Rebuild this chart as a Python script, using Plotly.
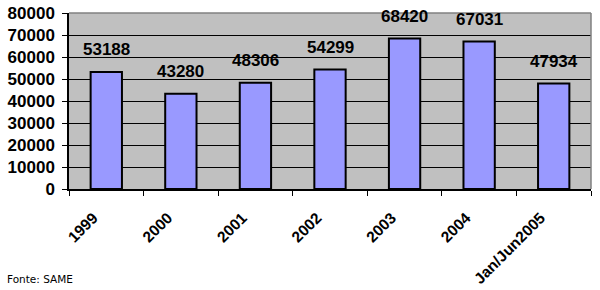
import plotly.graph_objects as go

categories = ["1999", "2000", "2001", "2002", "2003", "2004", "Jan/Jun2005"]
values = [53188, 43280, 48306, 54299, 68420, 67031, 47934]
y_ticks = [0, 10000, 20000, 30000, 40000, 50000, 60000, 70000, 80000]
source_note = "Fonte: SAME"

FAMILY = "Liberation Sans, Arial, sans-serif"
BOLD = dict(family=FAMILY, size=17, color="black", weight="bold")
XBOLD = dict(family=FAMILY, size=15.5, color="black", weight="bold")

fig = go.Figure()
fig.add_trace(go.Bar(
    x=categories, y=values,
    marker=dict(color="#9999FF", line=dict(color="black", width=2)),
    width=0.42,
    hoverinfo="skip",
))

for i, v in enumerate(values):
    fig.add_annotation(x=i, y=v, text=str(v), showarrow=False,
                       yshift=22, font=BOLD, xanchor="center", yanchor="middle")

fig.add_annotation(xref="paper", yref="paper", x=-0.123, y=-0.512,
                   text=source_note, showarrow=False, xanchor="left", yanchor="middle",
                   font=dict(family="DejaVu Sans, Verdana, sans-serif", size=10.5, color="black"))

fig.update_layout(
    width=600, height=290,
    margin=dict(l=69, r=9, t=13, b=101, autoexpand=False),
    paper_bgcolor="white",
    plot_bgcolor="#C0C0C0",
    showlegend=False,
    xaxis=dict(
        type="category",
        categoryorder="array", categoryarray=categories,
        range=[-0.5, len(categories) - 0.5],
        tickson="boundaries",
        ticks="outside", ticklen=5, tickcolor="black", tickwidth=1,
        showline=True, linecolor="black", linewidth=1.5,
        showgrid=False, zeroline=False,
        tickangle=-45,
        tickfont=XBOLD,
        ticklabelshift=-13,
        ticklabelstandoff=12,
        automargin=False,
    ),
    yaxis=dict(
        range=[0, 80000],
        tickvals=y_ticks,
        ticktext=[str(t) for t in y_ticks],
        ticks="outside", ticklen=5, tickcolor="black", tickwidth=1,
        showline=True, linecolor="black", linewidth=1.5,
        showgrid=True, gridcolor="black", gridwidth=1,
        tickfont=BOLD,
        ticklabelstandoff=4,
        zeroline=False,
        automargin=False,
    ),
    shapes=[
        dict(type="line", xref="paper", yref="paper", x0=0, x1=1, y0=1, y1=1,
             line=dict(color="#808080", width=1.5)),
        dict(type="line", xref="paper", yref="paper", x0=1, x1=1, y0=0, y1=1,
             line=dict(color="#808080", width=1.5)),
    ],
)

fig.write_html("out.html")
